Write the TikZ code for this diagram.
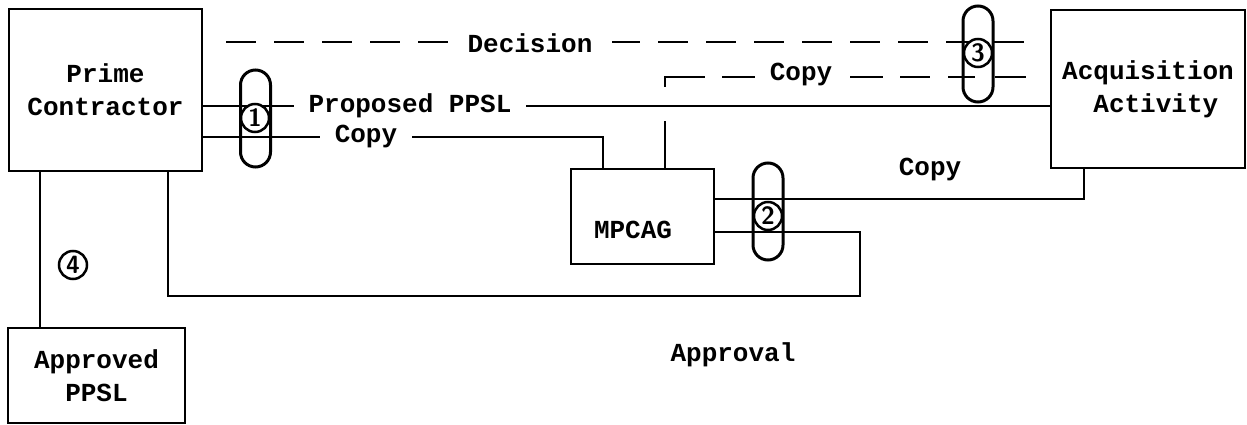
\documentclass[tikz,border=0pt]{standalone}
\usepackage{fontspec}
\setmonofont{Liberation Mono}
\begin{document}
\begin{tikzpicture}[x=1pt,y=-1pt,
  font=\ttfamily\bfseries\fontsize{26}{33}\selectfont,
  line width=2pt,
  box/.style={draw, line width=2pt, align=center, inner sep=0pt},
  lbl/.style={fill=white, inner xsep=15pt, inner ysep=2pt},
  plain/.style={inner sep=0pt},
  dashline/.style={dash pattern=on 30pt off 18pt},
  capsule/.style={draw, line width=3pt, rounded corners=15pt, minimum width=30pt, minimum height=97pt, inner sep=0pt},
  num/.style={draw, circle, line width=2.5pt, fill=white, minimum size=28pt, inner sep=0pt, font=\sffamily\bfseries\fontsize{25}{25}\selectfont}]
\useasboundingbox (0,0) rectangle (1247,425);

% boxes
\node[box, minimum width=193pt, minimum height=162pt] (prime) at (105.5,90) {Prime\\Contractor};
\node[box, minimum width=194pt, minimum height=158pt] (acq) at (1148,89) {Acquisition\\\ Activity};
\node[box, minimum width=143pt, minimum height=95pt] (mpcag) at (642.5,216.5) {};
\node[plain] (mpcagtext) at (633,230) {MPCAG};
\node[box, minimum width=177pt, minimum height=95pt] (approved) at (96.5,375.5) {Approved\\PPSL};

% helper coordinates
\coordinate (yprop) at (0,106);
\coordinate (ycopy1) at (603,137);
\coordinate (decstart) at (226,42);
\coordinate (cpcorner) at (665,77);
\coordinate (acqdown) at (1084,199);
\coordinate (apr1) at (860,232);
\coordinate (apr2) at (860,296);
\coordinate (apr3) at (168,296);
\coordinate (appx) at (40,250);

% connectors
\draw (prime.east |- yprop) -- (acq.west |- yprop);
\draw (prime.east |- ycopy1) -- (ycopy1) -- (mpcag.north -| ycopy1);
\draw[dashline, shorten >=24pt] (decstart) -- (acq.west |- decstart);
\draw[dash pattern=on 47pt off 34pt on 50pt off 17pt on 33pt off 95pt on 33pt off 17pt on 30pt off 18pt on 27pt off 20pt on 60pt off 20pt, shorten >=24pt]
  (mpcag.north -| cpcorner) -- (cpcorner) -- (acq.west |- cpcorner);
\draw (acq.south -| acqdown) -- (acqdown) -- (mpcag.east |- acqdown);
\draw (mpcag.east |- apr1) -- (apr1) -- (apr2) -- (apr3) -- (prime.south -| apr3);
\draw (prime.south -| appx) -- (approved.north -| appx);

% labels
\node[lbl] (lprop) at (410,106) {Proposed PPSL};
\node[lbl] (lcopy1) at (366,137) {Copy};
\node[lbl, inner xsep=20pt] (ldec) at (530,43) {Decision};
\node[lbl] (lcopy2) at (801,75) {Copy};
\node[plain] (lcopy3) at (930,170) {Copy};
\node[plain] (lappr) at (733,355) {Approval};

% capsules and numbers
\node[capsule] (cap1) at (255.5,118.5) {};
\node[capsule] (cap2) at (768,211.5) {};
\node[capsule, minimum height=96pt] (cap3) at (978,54) {};
\node[num] (n1) at (255,118) {1};
\node[num] (n2) at (768,216) {2};
\node[num] (n3) at (978,53) {3};
\node[num] (n4) at (73,265) {4};
\end{tikzpicture}
\end{document}
